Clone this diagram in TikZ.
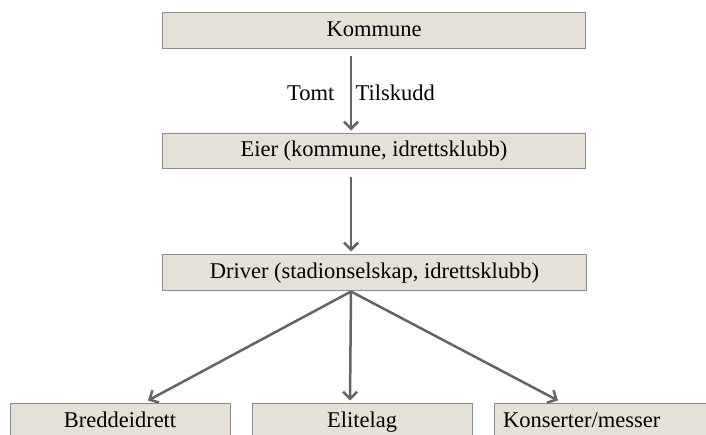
\documentclass[tikz,border=0pt]{standalone}
\usepackage{fontspec}
\setmainfont{Liberation Serif}
\usetikzlibrary{arrows.meta}

\definecolor{boxfill}{RGB}{229,225,214}
\definecolor{boxline}{RGB}{140,140,140}
\definecolor{arrcol}{RGB}{100,100,100}

\tikzset{
    orgbox/.style={draw=boxline, line width=1pt, fill=boxfill, minimum height=36pt, inner sep=0pt,
        text height=16pt, text depth=4pt},
    flow/.style={draw=arrcol, line width=2.5pt, -{Straight Barb[length=7pt,width=14pt]}}
}

\begin{document}
\begin{tikzpicture}[x=1pt,y=-1pt,font=\fontsize{22.5pt}{26pt}\selectfont]
    \useasboundingbox (0,0) rectangle (706,434);

    \node[orgbox, minimum width=423.5pt] (kommune) at (374,30) {Kommune};
    \node[orgbox, minimum width=423.5pt, minimum height=35pt] (eier) at (374,150.5) {Eier (kommune, idrettsklubb)};
    \node[orgbox, minimum width=424pt] (driver) at (374.5,272) {Driver (stadionselskap, idrettsklubb)};

    \node[orgbox, minimum width=220pt] (bredde) at (120,421) {Breddeidrett};
    \node[orgbox, minimum width=220pt] (elite) at (362,421) {Elitelag};
    \node[orgbox, minimum width=220pt, text width=202pt, inner xsep=9pt, align=left] (konsert) at (604,421) {Konserter/messer};

    \draw[flow] ([xshift=-23pt,yshift=-7pt]kommune.south) -- ([xshift=-23pt,yshift=2pt]eier.north)
        node[pos=.5, left, xshift=-12pt] (tomt) {Tomt}
        node[pos=.5, right] (tilskudd) {Tilskudd};
    \draw[flow] ([xshift=-23pt,yshift=-8pt]eier.south) -- ([xshift=-23.5pt,yshift=2pt]driver.north);

    \draw[flow] ([xshift=-23.5pt,yshift=-1pt]driver.south) -- ([xshift=28pt,yshift=2pt]bredde.north);
    \draw[flow] ([xshift=-23.5pt,yshift=-1pt]driver.south) -- ([xshift=-12pt,yshift=2pt]elite.north);
    \draw[flow] ([xshift=-23.5pt,yshift=-1pt]driver.south) -- ([xshift=-46pt,yshift=2pt]konsert.north);
\end{tikzpicture}
\end{document}
